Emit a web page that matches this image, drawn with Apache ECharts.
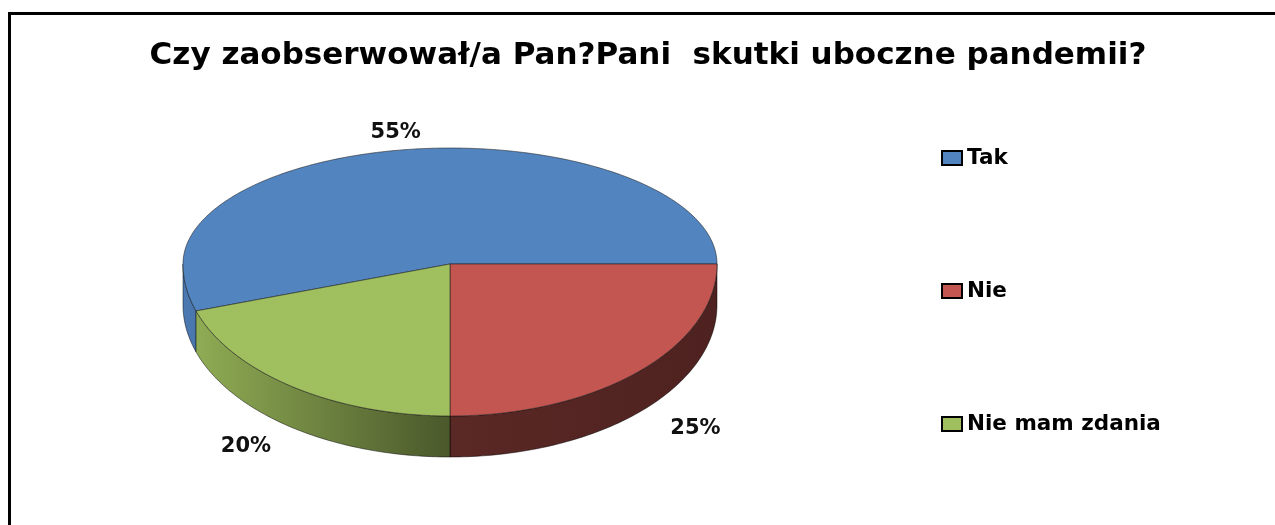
<!DOCTYPE html>
<html>
<head>
<meta charset="utf-8">
<script src="https://cdn.jsdelivr.net/npm/echarts@6/dist/echarts.min.js"></script>
<style>
  html, body { margin: 0; padding: 0; background: #fff; }
  #main { width: 1275px; height: 525px; }
</style>
</head>
<body>
<div id="main"></div>
<script>
// data
const titleText = 'Czy zaobserwował/a Pan?Pani  skutki uboczne pandemii?';
const categories = ['Tak', 'Nie', 'Nie mam zdania'];
const shares = [55, 25, 20];
const topColors = ['#5284c0', '#c45651', '#a0bf5e'];

const FONT = '"DejaVu Sans", sans-serif';

// 3d pie look (pixels)
const pie = {
  cx: 450, cy: 264,
  rx: 267, ryTop: 116, ryBottom: 152,
  depth: 41,
  startAngle: 162 * Math.PI / 180, // clockwise from 3 o'clock
  labelRx: 1.3, labelRy: 1.15
};

const total = shares.reduce((a, b) => a + b, 0);

function rim(t) {
  const s = Math.sin(t);
  return [pie.cx + pie.rx * Math.cos(t), pie.cy + (s < 0 ? pie.ryTop : pie.ryBottom) * s];
}

function arcPoints(a, b) {
  const pts = [];
  const n = Math.max(2, Math.ceil((b - a) / (Math.PI / 180)));
  for (let k = 0; k <= n; k++) pts.push(rim(a + (b - a) * k / n));
  return pts;
}

function shade(hex, f) {
  const c = echarts.color.parse(hex);
  return 'rgb(' + Math.round(c[0] * f) + ',' + Math.round(c[1] * f) + ',' + Math.round(c[2] * f) + ')';
}

function renderSlice(params, api) {
  const i = params.seriesIndex;
  let before = 0;
  for (let k = 0; k < i; k++) before += shares[k];
  const a = pie.startAngle + before / total * Math.PI * 2;
  const b = a + api.value(0) / total * Math.PI * 2;
  const color = topColors[i];
  const children = [];

  // side walls, only the front half shows
  for (let k = 0; k < 2; k++) {
    const lo = Math.max(a, k * 2 * Math.PI);
    const hi = Math.min(b, k * 2 * Math.PI + Math.PI);
    if (hi <= lo) continue;
    const up = arcPoints(lo, hi);
    const down = up.map(p => [p[0], p[1] + pie.depth]).reverse();
    children.push({
      type: 'polygon',
      shape: { points: up.concat(down) },
      style: {
        fill: new echarts.graphic.LinearGradient(pie.cx - pie.rx, 0, pie.cx + pie.rx, 0, [
          { offset: 0, color: shade(color, 0.92) },
          { offset: 0.5, color: shade(color, 0.46) },
          { offset: 1, color: shade(color, 0.4) }
        ], true),
        stroke: 'rgba(0,0,0,0.6)',
        lineWidth: 0.8
      }
    });
  }

  // top face
  children.push({
    type: 'polygon',
    shape: { points: [[pie.cx, pie.cy]].concat(arcPoints(a, b)) },
    style: { fill: color, stroke: 'rgba(30,30,30,0.7)', lineWidth: 0.8 }
  });

  // percentage label
  const m = (a + b) / 2;
  const s = Math.sin(m);
  children.push({
    type: 'text',
    x: pie.cx + pie.rx * pie.labelRx * Math.cos(m),
    y: pie.cy + (s < 0 ? pie.ryTop : pie.ryBottom) * pie.labelRy * s + (s > 0 ? pie.depth : 0),
    style: {
      text: Math.round(api.value(0) / total * 100) + '%',
      fontFamily: FONT, fontWeight: 'bold', fontSize: 21,
      fill: '#111', align: 'center', verticalAlign: 'middle'
    }
  });

  return { type: 'group', children: children };
}

const chart = echarts.init(document.getElementById('main'));

chart.setOption({
  backgroundColor: '#ffffff',
  animation: false,
  title: {
    text: titleText,
    left: 643,
    top: 35,
    textAlign: 'center',
    textStyle: { fontFamily: FONT, fontWeight: 'bold', fontSize: 31, color: '#000' }
  },
  legend: {
    orient: 'vertical',
    left: 936,
    top: 142,
    itemWidth: 20,
    itemHeight: 14,
    itemGap: 111,
    icon: 'rect',
    itemStyle: { borderColor: '#000', borderWidth: 2 },
    textStyle: { fontFamily: FONT, fontWeight: 'bold', fontSize: 21.5, color: '#000' },
    data: categories
  },
  graphic: [{
    type: 'rect',
    silent: true,
    z: -10,
    shape: { x: 9.5, y: 13.5, width: 1400, height: 700 },
    style: { fill: null, stroke: '#000', lineWidth: 3 }
  }],
  series: categories.map((name, i) => ({
    type: 'custom',
    name: name,
    coordinateSystem: 'none',
    itemStyle: { color: topColors[i] },
    renderItem: renderSlice,
    data: [[shares[i]]]
  }))
});
</script>
</body>
</html>
